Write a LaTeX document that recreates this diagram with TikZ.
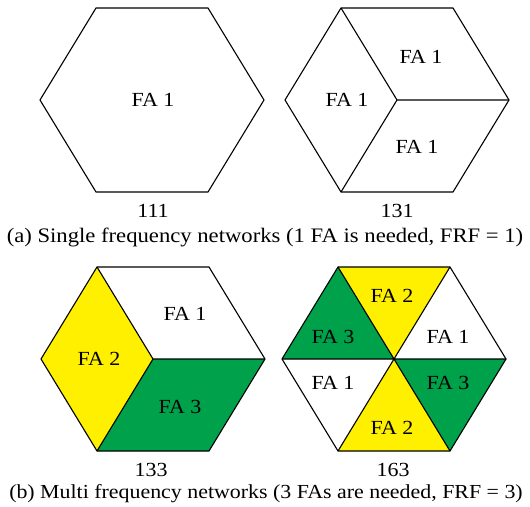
\documentclass[tikz,border=0pt]{standalone}
\usepackage{fontspec}
\setmainfont[FakeStretch=1.1]{Liberation Serif}
\definecolor{fayellow}{RGB}{255,240,0}
\definecolor{fagreen}{RGB}{0,161,75}
\newcommand\hexpts[3]{%
  \coordinate (#1c) at (#2,#3);
  \coordinate (#1L) at (#2-112,#3);
  \coordinate (#1R) at (#2+112,#3);
  \coordinate (#1TL) at (#2-56,#3-92);
  \coordinate (#1TR) at (#2+56,#3-92);
  \coordinate (#1BL) at (#2-56,#3+92);
  \coordinate (#1BR) at (#2+56,#3+92);}
\begin{document}
\begin{tikzpicture}[x=1pt,y=-1pt,
  edge/.style={draw=black,line width=1.1pt,line join=miter},
  falabel/.style={inner sep=0pt,font=\fontsize{20}{24}\selectfont},
  numlabel/.style={inner sep=0pt,anchor=base,font=\fontsize{20}{24}\selectfont},
  caption/.style={inner sep=0pt,anchor=base,font=\fontsize{20.6}{24}\selectfont}]
\useasboundingbox (0,0) rectangle (530,506);
\hexpts{a}{152}{100}
\hexpts{b}{397}{100}
\hexpts{c}{153}{359}
\hexpts{d}{394}{359}
% hexagon 111
\draw[edge] (aL) -- (aTL) -- (aTR) -- (aR) -- (aBR) -- (aBL) -- cycle;
\node[falabel] (a1) at (153,100) {FA 1};
\node[numlabel] (an) at (153,217) {111};
% hexagon 131
\draw[edge] (bL) -- (bTL) -- (bTR) -- (bR) -- (bBR) -- (bBL) -- cycle;
\draw[edge] (bTL) -- (bc) -- (bR) (bc) -- (bBL);
\node[falabel] (b1) at (421,57) {FA 1};
\node[falabel] (b2) at (347,100) {FA 1};
\node[falabel] (b3) at (417,147) {FA 1};
\node[numlabel] (bn) at (397,217) {131};
\node[caption] (capa) at (265,242) {(a) Single frequency networks (1 FA is needed, FRF = 1)};
% hexagon 133
\fill[fayellow] (cL) -- (cTL) -- (cc) -- (cBL) -- cycle;
\fill[fagreen] (cc) -- (cR) -- (cBR) -- (cBL) -- cycle;
\draw[edge] (cL) -- (cTL) -- (cTR) -- (cR) -- (cBR) -- (cBL) -- cycle;
\draw[edge] (cTL) -- (cc) -- (cR) (cc) -- (cBL);
\node[falabel] (c1) at (185,314) {FA 1};
\node[falabel] (c2) at (99,359) {FA 2};
\node[falabel] (c3) at (180,407) {FA 3};
\node[numlabel] (cn) at (151,476) {133};
% hexagon 163
\fill[fayellow] (dTL) -- (dTR) -- (dc) -- cycle;
\fill[fayellow] (dBL) -- (dBR) -- (dc) -- cycle;
\fill[fagreen] (dL) -- (dTL) -- (dc) -- cycle;
\fill[fagreen] (dR) -- (dBR) -- (dc) -- cycle;
\draw[edge] (dL) -- (dTL) -- (dTR) -- (dR) -- (dBR) -- (dBL) -- cycle;
\draw[edge] (dL) -- (dR) (dTL) -- (dBR) (dTR) -- (dBL);
\node[falabel] (d1) at (392,296) {FA 2};
\node[falabel] (d2) at (333,337) {FA 3};
\node[falabel] (d3) at (448,337) {FA 1};
\node[falabel] (d4) at (333,383) {FA 1};
\node[falabel] (d5) at (448,383) {FA 3};
\node[falabel] (d6) at (392,428) {FA 2};
\node[numlabel] (dn) at (393,476) {163};
\node[caption,font=\fontsize{19.9}{24}\selectfont] (capb) at (266,498) {(b) Multi frequency networks (3 FAs are needed, FRF = 3)};
\end{tikzpicture}
\end{document}
